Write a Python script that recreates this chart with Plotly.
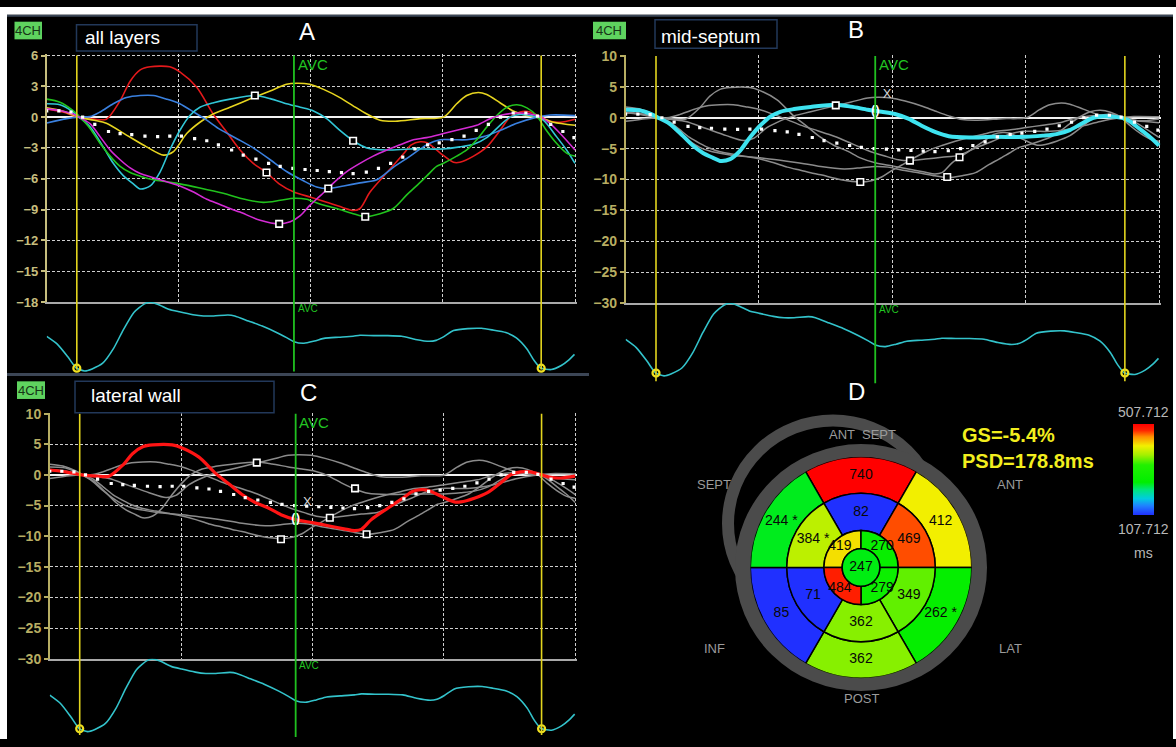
import plotly.graph_objects as go

# ---------------- data (time axis in arbitrary units 0..1000) ----------------
EVENT_T = [57, 936]          # yellow event cursors
AVC_T = 468                  # aortic valve closure

red_t = [0,30,60,90,113,139,158,177,196,233,252,284,315,340,366,391,416,440,468,500,530,560,580,593,612,644,675,690,707,720,745,770,782,808,833,858,877,896,915,936,953,972,1000]
red_v = [0.8,0.5,0.0,-0.2,-0.2,1.6,3.5,4.6,4.9,4.9,4.4,2.9,0.3,-1.4,-3.2,-4.5,-5.4,-6.5,-7.3,-7.8,-8.3,-8.8,-9.1,-8.9,-7.3,-5.4,-3.6,-2.7,-2.4,-2.5,-3.5,-4.4,-4.4,-3.8,-2.9,-1.3,0.0,0.5,0.5,0.0,-0.4,-0.5,-0.2]

yellow_t = [0,30,60,90,113,151,189,221,240,265,290,315,347,391,423,454,473,498,524,555,580,606,631,660,707,751,776,795,817,833,858,883,909,936,959,1000]
yellow_v = [0.9,0.6,0.0,-0.3,-0.6,-1.75,-2.9,-3.7,-3.35,-1.6,-0.5,0.3,0.96,1.9,2.55,3.2,3.3,3.2,2.7,1.9,1.1,0.3,-0.3,-0.4,-0.15,0.0,1.3,2.1,2.4,2.2,1.4,0.6,0.15,-0.1,-0.5,-0.8]

blue_t = [0,38,60,82,101,126,151,177,202,227,252,278,303,328,360,391,423,454,486,511,533,562,593,625,656,688,719,745,770,795,827,858,890,921,953,1000]
blue_v = [-0.57,-0.15,0.0,0.05,0.5,1.3,1.9,2.1,2.1,1.75,1.3,0.5,-0.3,-1.2,-2.1,-3.0,-4.15,-5.3,-6.2,-6.8,-6.95,-6.7,-6.4,-6.1,-4.9,-3.8,-2.7,-2.2,-2.2,-2.2,-1.9,-1.3,-0.6,-0.1,0.2,0.15]

cyan_t = [0,25,50,60,82,107,126,145,164,177,196,214,233,252,271,290,316,347,394,423,454,480,505,530,555,580,606,644,688,751,782,808,833,858,877,896,921,940,965,984,1000]
cyan_v = [1.3,1.2,0.5,0.05,-0.95,-2.9,-4.5,-5.7,-6.5,-7.0,-6.7,-5.4,-3.2,-1.3,0.16,0.96,1.4,1.75,2.1,1.8,1.3,0.96,0.6,-0.15,-1.3,-2.3,-3.0,-3.2,-3.1,-3.1,-2.9,-2.65,-2.0,-0.8,0.0,0.25,0.1,-0.3,-1.9,-3.2,-4.5]

green_t = [0,25,50,60,82,101,120,139,158,177,202,227,252,290,316,347,366,410,442,468,492,517,549,580,603,631,656,681,700,719,738,751,776,795,814,833,852,871,890,909,927,946,965,984,1000]
green_v = [1.75,1.45,0.64,0.16,-1.1,-2.55,-3.8,-4.8,-5.4,-5.75,-6.1,-6.3,-6.5,-6.9,-7.2,-7.6,-7.9,-8.3,-8.1,-7.9,-8.0,-8.45,-8.9,-9.4,-9.7,-9.4,-8.9,-7.6,-6.7,-5.75,-4.8,-4.5,-3.8,-3.2,-2.2,-0.96,0.16,0.96,1.2,0.9,0.16,-1.3,-2.55,-3.5,-3.8]

magenta_t = [0,25,50,60,82,101,120,139,158,177,202,227,252,278,303,328,347,366,404,440,461,480,498,517,543,568,593,618,644,669,694,719,751,782,814,839,858,890,915,936,953,972,1000]
magenta_v = [0.8,0.64,0.3,0.05,-0.64,-1.9,-3.2,-4.15,-4.95,-5.5,-5.9,-6.3,-6.7,-7.3,-8.0,-8.5,-8.9,-9.25,-10.05,-10.4,-10.2,-9.6,-8.6,-7.7,-6.4,-5.3,-4.5,-3.8,-3.2,-2.7,-2.2,-2.0,-1.6,-1.2,-0.8,-0.16,0.16,0.4,0.3,0.0,-0.64,-1.6,-3.2]

avg_t = [0,23,46,68,91,117,139,161,186,210,233,255,280,303,325,350,372,396,420,442,466,489,512,535,558,580,605,628,651,674,697,721,743,767,790,813,836,859,883,907,929,954,977,998]
avg_v = [0.6,0.6,0.5,0.0,-0.7,-1.4,-1.6,-1.7,-1.85,-1.9,-1.85,-1.85,-2.1,-2.3,-2.7,-3.2,-3.7,-4.1,-4.5,-4.8,-5.0,-5.1,-5.2,-5.3,-5.4,-5.5,-5.35,-5.0,-4.5,-3.9,-3.1,-2.7,-2.5,-2.2,-1.85,-1.3,-0.7,0.0,0.4,0.4,0.1,-0.7,-1.4,-2.0]

ecg_t = [0,20,40,56,72,86,106,126,145,165,185,195,211,231,251,277,297,316,343,356,382,408,435,455,468,487,507,527,553,580,593,619,645,672,698,724,737,751,770,797,823,843,869,889,909,922,935,955,974,988,999]
ecg_v = [0.49,0.376,0.188,0.023,-0.02,0.01,0.094,0.305,0.587,0.845,0.972,0.995,0.962,0.892,0.854,0.812,0.793,0.793,0.808,0.793,0.718,0.643,0.549,0.469,0.413,0.39,0.423,0.465,0.479,0.493,0.507,0.502,0.502,0.493,0.446,0.418,0.432,0.484,0.577,0.606,0.61,0.587,0.549,0.469,0.305,0.141,0.023,0.0,0.061,0.141,0.225]
ecg_event_v = [0.02, 0.02]

# peak markers shown in each panel
A_pk_t = [394, 416, 440, 533, 580, 603]
A_pk_v = [2.1, -5.4, -10.4, -6.95, -2.3, -9.7]
B_pk_t = [394, 440, 533, 603, 626]
B_pk_v = [2.0, -10.4, -6.95, -9.6, -6.4]
C_pk_t = [394, 440, 533, 581, 603]
C_pk_v = [2.0, -10.5, -7.0, -2.2, -9.7]
B_avc_v = 1.16
C_avc_v = -7.15

# bullseye (time-to-peak, ms)
basal_theta = [90, 30, 330, 270, 210, 150]
basal_vals = [740, 412, 262, 362, 85, 244]
basal_star = [False, False, True, False, False, True]
mid_vals = [82, 469, 349, 362, 71, 384]
mid_star = [False, False, False, False, False, True]
apical_theta = [135, 45, 315, 225]
apical_vals = [419, 270, 279, 484]
apex_val = 247
cmin_ms, cmax_ms = 107.712, 507.712
GS = "-5.4%"
PSD = "178.8ms"

# ---------------- figure ----------------
W, H = 1176, 747
FONT = "Arial, Liberation Sans, sans-serif"
fig = go.Figure()


def fx(p):
    return p / W


def fy(p):
    return 1 - p / H


def pmap(pa, va, pb, vb, v):
    """pixel of value v, given pixel pa at value va and pb at vb"""
    return pa + (v - va) * (pb - pa) / (vb - va)


XR = [0, 1004]
panels = [
    dict(xl=46.7, xr=575, ytp=49.5, ytv=6, ybp=301, ybv=-18, dt=3, ext=0.1,
         et=301, eb=370, line_bot=372, fs=13, tc="#c6be7e",
         box=(76.5, 18, 197, 45), label="all layers", ltx=83, lty=31,
         ch=(14.5, 15, 42, 33), letter="A", lx=307, ly=25,
         pk=(A_pk_t, A_pk_v), hi=None, avc=None),
    dict(xl=625.6, xr=1159, ytp=50, ytv=10, ybp=302, ybv=-30, dt=5, ext=0.15,
         et=302, eb=375, line_bot=384, fs=14, tc="#b7ad62",
         box=(655, 13, 777, 42), label="mid-septum", ltx=659, lty=30,
         ch=(593, 15, 626, 33), letter="B", lx=856, ly=23,
         pk=(B_pk_t, B_pk_v), hi="cyan", avc=B_avc_v),
    dict(xl=49.75, xr=575.2, ytp=415, ytv=10, ybp=665, ybv=-30, dt=5, ext=0.15,
         et=665, eb=738, line_bot=745, fs=14, tc="#b7ad62",
         box=(75, 382, 274, 414), label="lateral wall", ltx=89, lty=396,
         ch=(17, 382, 45, 400), letter="C", lx=308, ly=393,
         pk=(C_pk_t, C_pk_v), hi="red", avc=C_avc_v),
]

curves = [
    ("red", red_t, red_v, "#e3191b"),
    ("yellow", yellow_t, yellow_v, "#e6d41f"),
    ("blue", blue_t, blue_v, "#3a80df"),
    ("cyan", cyan_t, cyan_v, "#31c6d6"),
    ("green", green_t, green_v, "#21c21d"),
    ("magenta", magenta_t, magenta_v, "#d42bd4"),
]
hi_style = {"cyan": ("#3ee3f0", 4), "red": ("#ff1414", 3.2)}

shapes = []
annos = []
layout_axes = {}

for i, P in enumerate(panels):
    n = i + 1
    sx = "x" if n == 1 else f"x{n}"
    sy = "y" if n == 1 else f"y{n}"
    ex, ey = f"x{n + 3}", f"y{n + 3}"
    # domains from pixel geometry
    x0p = P["xl"]
    x1p = pmap(P["xl"], 0, P["xr"], 1000, XR[1])
    ylo_p = P["ybp"]
    yhi_p = pmap(P["ytp"], P["ytv"], P["ybp"], P["ybv"], P["ytv"] + P["ext"])
    e_lo_p = pmap(P["et"], 1, P["eb"], 0, -0.04)
    e_hi_p = P["et"]
    xdom = [fx(x0p), fx(x1p)]
    layout_axes["xaxis" if n == 1 else f"xaxis{n}"] = dict(
        domain=xdom, anchor=sy, range=XR, tickvals=[250, 500, 750, 1000],
        showticklabels=False, ticks="", showgrid=True, gridcolor="#cfcfcf",
        griddash="3px,2px", gridwidth=1, zeroline=False, showline=True,
        linecolor="#a9a9a9", linewidth=2, fixedrange=True)
    layout_axes["yaxis" if n == 1 else f"yaxis{n}"] = dict(
        domain=[fy(ylo_p), fy(yhi_p)], anchor=sx,
        range=[P["ybv"], P["ytv"] + P["ext"]], tick0=0, dtick=P["dt"],
        showgrid=True, gridcolor="#cfcfcf", griddash="3px,2px", gridwidth=1,
        zeroline=True, zerolinecolor="#f2f2f2", zerolinewidth=2,
        showline=True, linecolor=P["tc"], linewidth=1.5, ticks="outside",
        ticklen=4, tickcolor=P["tc"], tickwidth=1.5,
        tickfont=dict(family=FONT, size=P["fs"], color=P["tc"], weight="bold"),
        fixedrange=True)
    layout_axes[f"xaxis{n + 3}"] = dict(domain=xdom, anchor=ey, range=XR,
                                        visible=False, fixedrange=True)
    layout_axes[f"yaxis{n + 3}"] = dict(domain=[fy(e_lo_p), fy(e_hi_p)],
                                        anchor=ex, range=[-0.04, 1.0],
                                        visible=False, fixedrange=True)

    # strain curves
    hi = P["hi"]
    for name, t, v, col in curves:
        if hi is None:
            fig.add_trace(go.Scatter(x=t, y=v, xaxis=sx, yaxis=sy, mode="lines",
                                     line=dict(color=col, width=1.6, shape="spline", smoothing=0.8),
                                     hoverinfo="skip"))
        elif name != hi:
            fig.add_trace(go.Scatter(x=t, y=v, xaxis=sx, yaxis=sy, mode="lines",
                                     line=dict(color="#8b8b8b", width=1.5, shape="spline", smoothing=0.8),
                                     hoverinfo="skip"))
    if hi is not None:
        for name, t, v, col in curves:
            if name == hi:
                c, w = hi_style[hi]
                fig.add_trace(go.Scatter(x=t, y=v, xaxis=sx, yaxis=sy, mode="lines",
                                         line=dict(color=c, width=w, shape="spline", smoothing=0.8),
                                         hoverinfo="skip"))
    # average (dotted)
    fig.add_trace(go.Scatter(x=avg_t, y=avg_v, xaxis=sx, yaxis=sy, mode="markers",
                             marker=dict(symbol="square", size=3.2, color="white"),
                             hoverinfo="skip"))
    # peak markers
    pt, pv = P["pk"]
    fig.add_trace(go.Scatter(x=pt, y=pv, xaxis=sx, yaxis=sy, mode="markers",
                             marker=dict(symbol="square", size=6.5, color="black",
                                         line=dict(color="white", width=1.6)),
                             hoverinfo="skip"))
    if P["avc"] is not None:
        fig.add_trace(go.Scatter(x=[AVC_T], y=[P["avc"]], xaxis=sx, yaxis=sy, mode="text",
                                 text=["()"], textfont=dict(family=FONT, size=13, color="white", weight="bold"),
                                 hoverinfo="skip"))
        fig.add_trace(go.Scatter(x=[AVC_T + 22], y=[P["avc"] + 2.6], xaxis=sx, yaxis=sy, mode="text",
                                 text=["X"], textfont=dict(family=FONT, size=13, color="#d8d8d8"),
                                 hoverinfo="skip"))
    # ECG
    fig.add_trace(go.Scatter(x=ecg_t, y=ecg_v, xaxis=ex, yaxis=ey, mode="lines",
                             line=dict(color="#33c3cb", width=1.6, shape="spline", smoothing=0.6),
                             hoverinfo="skip"))
    fig.add_trace(go.Scatter(x=EVENT_T, y=ecg_event_v, xaxis=ex, yaxis=ey, mode="markers",
                             marker=dict(symbol="circle-open", size=7, color="#f0e020",
                                         line=dict(width=2.2)),
                             cliponaxis=False, hoverinfo="skip"))

    # event cursor lines
    for t in EVENT_T:
        shapes.append(dict(type="line", xref=sx, yref="paper", x0=t, x1=t,
                           y0=fy(P["line_bot"] - 2), y1=fy(P["ytp"]),
                           line=dict(color="#e3d51e", width=1.6), layer="above"))
    shapes.append(dict(type="line", xref=sx, yref="paper", x0=AVC_T, x1=AVC_T,
                       y0=fy(P["line_bot"]), y1=fy(P["ytp"]),
                       line=dict(color="#20c020", width=1.8), layer="above"))
    annos.append(dict(xref=sx, yref="paper", x=AVC_T + 3, y=fy(P["ytp"] + 9),
                      xanchor="left", yanchor="middle", text="AVC", showarrow=False,
                      font=dict(family=FONT, size=15, color="#22c522")))
    annos.append(dict(xref=sx, yref="paper", x=AVC_T + 3, y=fy(P["ybp"] + 7),
                      xanchor="left", yanchor="middle", text="AVC", showarrow=False,
                      font=dict(family=FONT, size=10, color="#22c522")))
    # label box
    bx0, by0, bx1, by1 = P["box"]
    shapes.append(dict(type="rect", xref="paper", yref="paper", x0=fx(bx0), x1=fx(bx1),
                       y0=fy(by1), y1=fy(by0), line=dict(color="#22385a", width=1.5),
                       fillcolor="black", layer="above"))
    annos.append(dict(xref="paper", yref="paper", x=fx(P["ltx"]), y=fy(P["lty"]),
                      xanchor="left", yanchor="middle", text=P["label"], showarrow=False,
                      font=dict(family=FONT, size=19, color="white")))
    # 4CH tag
    cx0, cy0, cx1, cy1 = P["ch"]
    shapes.append(dict(type="rect", xref="paper", yref="paper", x0=fx(cx0), x1=fx(cx1),
                       y0=fy(cy1), y1=fy(cy0), line=dict(width=0),
                       fillcolor="#5fd35f", layer="above"))
    annos.append(dict(xref="paper", yref="paper", x=fx((cx0 + cx1) / 2), y=fy((cy0 + cy1) / 2),
                      xanchor="center", yanchor="middle", text="4CH", showarrow=False,
                      font=dict(family=FONT, size=13, color="#173517")))
    annos.append(dict(xref="paper", yref="paper", x=fx(P["lx"]), y=fy(P["ly"]),
                      xanchor="center", yanchor="middle", text=P["letter"], showarrow=False,
                      font=dict(family=FONT, size=24, color="white")))

# ---------------- D: bullseye ----------------
CX, CY, R = 861, 572, 113
R_MID, R_API, R_APEX = 0.67, 0.335, 0.17
colorscale = [[0.0, "#2030ff"], [0.1, "#2080ff"], [0.18, "#00cce0"], [0.28, "#00e67a"],
              [0.36, "#00ee00"], [0.55, "#22f000"], [0.66, "#a4f000"], [0.76, "#f2f000"],
              [0.86, "#ff9000"], [0.93, "#ff2400"], [1.0, "#ff0000"]]

seg_theta = basal_theta + basal_theta + apical_theta + [0]
seg_width = [60] * 12 + [90] * 4 + [360]
seg_base = [R_MID] * 6 + [R_API] * 6 + [R_APEX] * 4 + [0]
seg_r = [1 - R_MID] * 6 + [R_MID - R_API] * 6 + [R_API - R_APEX] * 4 + [R_APEX]
seg_vals = basal_vals + mid_vals + apical_vals + [apex_val]

# grey rings behind the bullseye
shapes.insert(0, dict(type="circle", xref="paper", yref="paper",
                      x0=fx(833 - 105), x1=fx(833 + 105), y0=fy(527 + 105), y1=fy(527 - 105),
                      line=dict(color="#4b4b4b", width=12), layer="below"))
shapes.insert(1, dict(type="circle", xref="paper", yref="paper",
                      x0=fx(CX - 126), x1=fx(CX + 126), y0=fy(CY + 126), y1=fy(CY - 126),
                      line=dict(width=0), fillcolor="#4b4b4b", layer="below"))

fig.add_trace(go.Barpolar(
    r=seg_r, base=seg_base, theta=seg_theta, width=seg_width,
    marker=dict(color=seg_vals, colorscale=colorscale, cmin=cmin_ms, cmax=cmax_ms,
                line=dict(color="black", width=1.5),
                colorbar=dict(x=fx(1133), xanchor="left", y=fy(471.5), yanchor="middle",
                              len=93 / H, lenmode="fraction", thickness=21,
                              thicknessmode="pixels", showticklabels=False, ticks="",
                              outlinewidth=0, xpad=0, ypad=0)),
    hoverinfo="skip", subplot="polar"))

lab_r = [0.83] * 6 + [0.5] * 6 + [0.27] * 4 + [0]
lab_text = ([f"{v} *" if s else str(v) for v, s in zip(basal_vals, basal_star)]
            + [f"{v} *" if s else str(v) for v, s in zip(mid_vals, mid_star)]
            + [str(v) for v in apical_vals] + [str(apex_val)])
fig.add_trace(go.Scatterpolar(r=lab_r, theta=seg_theta, mode="text", text=lab_text,
                              textfont=dict(family=FONT, size=14, color="#080808"),
                              hoverinfo="skip", subplot="polar"))

orient = [("ANT  SEPT", 862, 436), ("SEPT", 714, 487), ("ANT", 1010, 487),
          ("INF", 714, 655), ("LAT", 1010, 655), ("POST", 861, 706)]
for txt, x, y in orient:
    annos.append(dict(xref="paper", yref="paper", x=fx(x), y=fy(y), text=txt, showarrow=False,
                      xanchor="center", yanchor="middle",
                      font=dict(family=FONT, size=13, color="#9b9b9b")))
annos.append(dict(xref="paper", yref="paper", x=fx(960), y=fy(437), xanchor="left", yanchor="middle",
                  text=f"GS={GS}", showarrow=False,
                  font=dict(family=FONT, size=20, color="#f2ee1e", weight="bold")))
annos.append(dict(xref="paper", yref="paper", x=fx(960), y=fy(463), xanchor="left", yanchor="middle",
                  text=f"PSD={PSD}", showarrow=False,
                  font=dict(family=FONT, size=20, color="#f2ee1e", weight="bold")))
for txt, y in [(f"{cmax_ms:.3f}", 413), (f"{cmin_ms:.3f}", 533), ("ms", 557)]:
    annos.append(dict(xref="paper", yref="paper", x=fx(1143), y=fy(y), xanchor="center",
                      yanchor="middle", text=txt, showarrow=False,
                      font=dict(family=FONT, size=14, color="#b8b8b8")))
annos.append(dict(xref="paper", yref="paper", x=fx(856), y=fy(392), xanchor="center",
                  yanchor="middle", text="D", showarrow=False,
                  font=dict(family=FONT, size=24, color="white")))

# frame: white strips top/left/right and panel separator
shapes.append(dict(type="rect", xref="paper", yref="paper", x0=0, x1=1, y0=fy(8), y1=1,
                   fillcolor="white", line=dict(width=0), layer="above"))
shapes.append(dict(type="line", xref="paper", yref="paper", x0=fx(7), x1=1, y0=fy(9), y1=fy(9),
                   line=dict(color="#3a4656", width=2), layer="above"))
shapes.append(dict(type="rect", xref="paper", yref="paper", x0=0, x1=fx(7), y0=0, y1=1,
                   fillcolor="white", line=dict(width=0), layer="above"))
shapes.append(dict(type="rect", xref="paper", yref="paper", x0=fx(1173), x1=1, y0=0, y1=1,
                   fillcolor="white", line=dict(width=0), layer="above"))
shapes.append(dict(type="line", xref="paper", yref="paper", x0=fx(7), x1=fx(589), y0=fy(375), y1=fy(375),
                   line=dict(color="#3c4656", width=3), layer="above"))

fig.update_layout(
    width=W, height=H, margin=dict(l=0, r=0, t=0, b=0),
    paper_bgcolor="black", plot_bgcolor="black", showlegend=False,
    shapes=shapes, annotations=annos,
    polar=dict(domain=dict(x=[fx(CX - R), fx(CX + R)], y=[fy(CY + R), fy(CY - R)]),
               bgcolor="rgba(0,0,0,0)", hole=0,
               radialaxis=dict(visible=False, range=[0, 1]),
               angularaxis=dict(visible=False, rotation=0, direction="counterclockwise")),
    **layout_axes,
)

fig.write_html("out.html", config={"displayModeBar": False},
               post_script="document.body.style.margin='0';document.body.style.overflow='hidden';")
